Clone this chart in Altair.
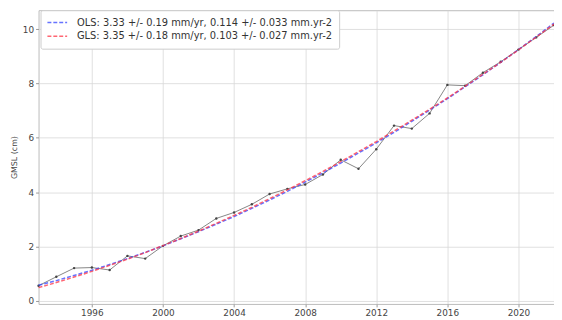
import altair as alt
import pandas as pd

years = list(range(1993, 2023))
gmsl = [0.55, 0.88, 1.20, 1.22, 1.13, 1.65, 1.55, 2.02, 2.38, 2.60,
        3.03, 3.25, 3.55, 3.93, 4.12, 4.28, 4.65, 5.19, 4.86, 5.58,
        6.45, 6.34, 6.90, 7.95, 7.92, 8.40, 8.80, 9.25, 9.70, 10.15]
ols = [0.57, 0.74, 0.93, 1.12, 1.33, 1.55, 1.78, 2.02, 2.28, 2.54,
       2.82, 3.10, 3.40, 3.71, 4.03, 4.37, 4.71, 5.07, 5.44, 5.81,
       6.20, 6.61, 7.02, 7.44, 7.88, 8.32, 8.78, 9.25, 9.73, 10.23]
gls = [0.48, 0.67, 0.87, 1.08, 1.30, 1.53, 1.77, 2.03, 2.29, 2.56,
       2.85, 3.14, 3.44, 3.76, 4.08, 4.42, 4.76, 5.12, 5.49, 5.86,
       6.25, 6.65, 7.05, 7.47, 7.90, 8.34, 8.78, 9.24, 9.71, 10.19]
ols_label = "OLS: 3.33 +/- 0.19 mm/yr, 0.114 +/- 0.033 mm.yr-2"
gls_label = "GLS: 3.35 +/- 0.18 mm/yr, 0.103 +/- 0.027 mm.yr-2"
x_ticks = [1996, 2000, 2004, 2008, 2012, 2016, 2020]
y_ticks = [0, 2, 4, 6, 8, 10]

obs = pd.DataFrame({"year": years, "gmsl": gmsl})
trend = pd.DataFrame({
    "year": years + years,
    "value": ols + gls,
    "fit": [ols_label] * len(years) + [gls_label] * len(years),
})

font = "DejaVu Sans"
xenc = alt.X("year:Q", scale=alt.Scale(domain=[1993, 2022], nice=False, zero=False),
             axis=alt.Axis(values=x_ticks, format="d", title=None))
yscale = alt.Scale(domain=[-0.12, 10.7], nice=False, zero=False)

base_obs = alt.Chart(obs).encode(
    x=xenc,
    y=alt.Y("gmsl:Q", scale=yscale,
            axis=alt.Axis(values=y_ticks, title="GMSL (cm)", format="d")),
)
obs_line = base_obs.mark_line(color="#666666", strokeWidth=0.8)
obs_pts = base_obs.mark_point(filled=True, color="#444444", size=6, opacity=1)

trend_lines = alt.Chart(trend).mark_line(strokeWidth=1.5, strokeDash=[4, 2], opacity=0.75).encode(
    x=xenc,
    y=alt.Y("value:Q", scale=yscale),
    color=alt.Color("fit:N",
                    scale=alt.Scale(domain=[ols_label, gls_label], range=["#3344ff", "#ff3344"]),
                    legend=alt.Legend(title=None, orient="none", legendX=2, legendY=0,
                                      symbolType="stroke", symbolSize=400, symbolStrokeWidth=1.5,
                                      symbolDash=[4, 2], symbolOpacity=0.75,
                                      labelFontSize=10, labelFont=font, labelColor="#333333",
                                      labelLimit=0, clipHeight=13,
                                      fillColor="white", strokeColor="#cccccc", padding=6,
                                      rowPadding=1, cornerRadius=2, labelOffset=9)),
    order=alt.Order("fit:N"),
)

chart = alt.layer(obs_line, obs_pts, trend_lines).properties(
    width=523, height=298,
    autosize=alt.AutoSizeParams(type="none"),
    padding={"left": 31, "top": 0, "right": 0, "bottom": 12},
).configure_view(
    stroke="#bbbbbb", strokeWidth=1
).configure_axis(
    labelFont=font, labelFontSize=9, labelColor="#444444",
    titleFont=font, titleFontSize=8, titleColor="#444444", titleFontWeight="normal",
    gridColor="#d8d8d8", gridWidth=0.8, domain=False,
    tickColor="#999999", tickSize=3, labelPadding=2,
)

chart.save("out.html", embed_options={"renderer": "svg", "actions": False})
